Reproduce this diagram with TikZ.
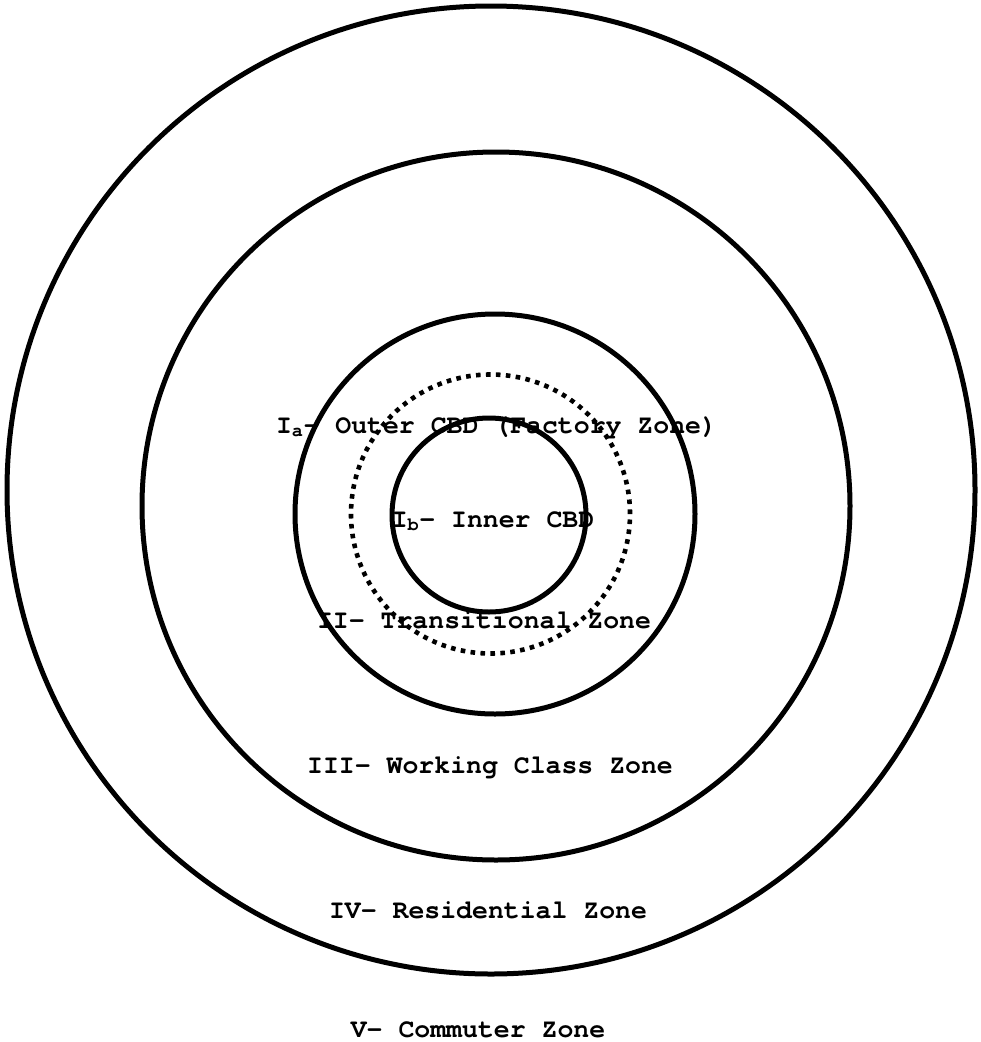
\documentclass[tikz,border=0pt]{standalone}
\usepackage{fontspec}
\newfontfamily\courfont{texgyrecursor}[Extension=.otf, UprightFont=*-regular, BoldFont=*-bold]
\tikzset{
  ring/.style={circle, draw=black, line width=5pt, inner sep=0pt, outer sep=0pt},
  dotring/.style={circle, draw=black, line width=4.6pt, inner sep=0pt, outer sep=0pt, dash pattern=on 4.6pt off 5.36pt},
  zonelabel/.style={anchor=base, inner sep=0pt, font=\courfont\bfseries\fontsize{26.5pt}{30pt}\selectfont}
}
\begin{document}
\begin{tikzpicture}[x=1pt,y=-1pt]
\useasboundingbox (0,0) rectangle (981,1042);
\fill[white] (0,0) rectangle (981,1042);
% rings
\node[ring, minimum size=968pt] (outer) at (491,490) {};
\node[ring, minimum size=708pt] (resid) at (496,506) {};
\node[ring, minimum size=400pt] (work) at (495,514) {};
\node[dotring, minimum size=279pt] (trans) at (490.5,514) {};
\node[ring, minimum size=194pt] (inner) at (489,515) {};
% labels
\node[zonelabel] (la) at (496.5,433) {I\textsubscript{a}- Outer CBD (Factory Zone)};
\node[zonelabel] (lb) at (493,527) {I\textsubscript{b}- Inner CBD};
\node[zonelabel] (lii) at (484,628) {II- Transitional Zone};
\node[zonelabel] (liii) at (490,773) {III- Working Class Zone};
\node[zonelabel] (liv) at (488,918) {IV- Residential Zone};
\node[zonelabel] (lv) at (478,1037) {V- Commuter Zone};
\end{tikzpicture}
\end{document}
